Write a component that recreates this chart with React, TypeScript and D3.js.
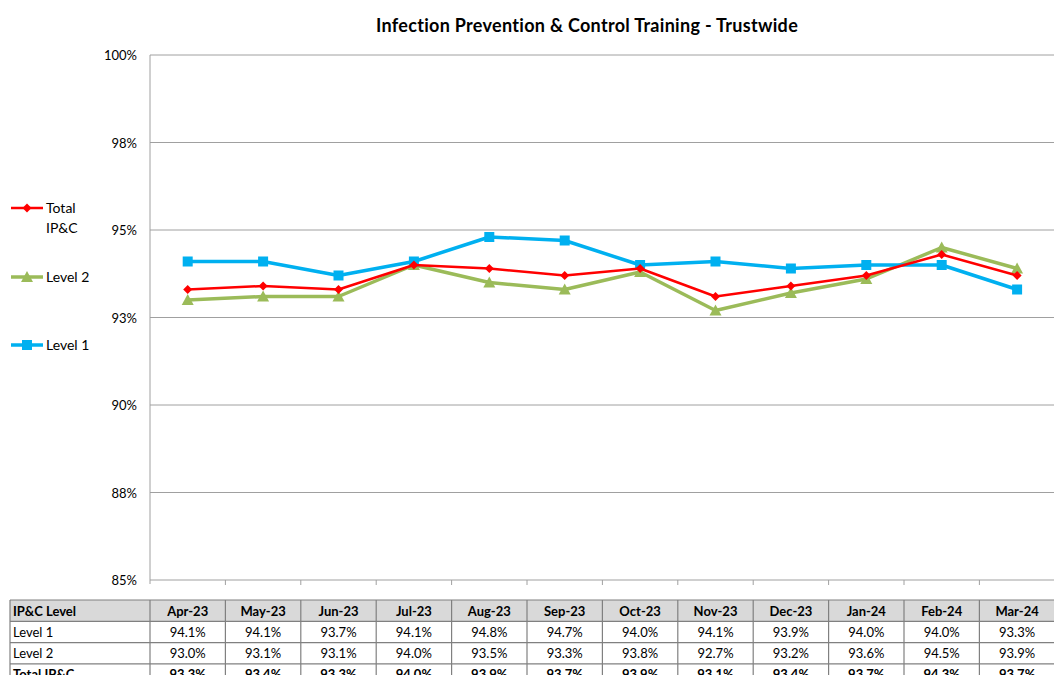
import React from "react";
import * as d3 from "d3";

const months = ["Apr-23","May-23","Jun-23","Jul-23","Aug-23","Sep-23","Oct-23","Nov-23","Dec-23","Jan-24","Feb-24","Mar-24"];
const level1 = [94.1,94.1,93.7,94.1,94.8,94.7,94.0,94.1,93.9,94.0,94.0,93.3];
const level2 = [93.0,93.1,93.1,94.0,93.5,93.3,93.8,92.7,93.2,93.6,94.5,93.9];
const total = [93.3,93.4,93.3,94.0,93.9,93.7,93.9,93.1,93.4,93.7,94.3,93.7];
const yTicks = [85, 87.5, 90, 92.5, 95, 97.5, 100];
const yTickLabels = ["85%","88%","90%","93%","95%","98%","100%"];
const title = "Infection Prevention & Control Training - Trustwide";

const FONT = "Lato, 'Open Sans', sans-serif";

export default function App() {
  const W = 1054, H = 675;
  const left = 150, top = 55, bottom = 580;
  const x = d3.scaleBand<string>().domain(months).range([left, left + 12 * 75.4]);
  const cx = (m: string) => (x(m) as number) + x.bandwidth() / 2;
  const y = d3.scaleLinear().domain([85, 100]).range([bottom, top]);
  const line = d3.line<number>().x((_, i) => cx(months[i])).y(d => y(d));

  const series = [
    { name: "Level 2", data: level2, color: "#9bbb59", width: 3.5, marker: "tri" },
    { name: "Level 1", data: level1, color: "#00b0f0", width: 3.5, marker: "sq" },
    { name: "Total", data: total, color: "#ff0000", width: 2.5, marker: "dia" },
  ];

  const marker = (type: string, px: number, py: number, color: string, key: any) => {
    if (type === "sq") return <rect key={key} x={px - 5} y={py - 5} width={10} height={10} fill={color} />;
    if (type === "tri") return <path key={key} d={`M${px},${py - 6}L${px + 6},${py + 5}L${px - 6},${py + 5}Z`} fill={color} />;
    return <path key={key} d={`M${px},${py - 4.5}L${px + 4.5},${py}L${px},${py + 4.5}L${px - 4.5},${py}Z`} fill={color} />;
  };

  const tTop = 600, rh = 21.3;
  const rows = [
    { label: "Level 1", vals: level1, bold: false },
    { label: "Level 2", vals: level2, bold: false },
    { label: "Total IP&C", vals: total, bold: true },
  ];
  const bandR = (x(months[11]) as number) + x.bandwidth();

  return (
    <svg width={W} height={H} style={{ position: "absolute", left: 0, top: 0, fontFamily: FONT }}>
      <rect width={W} height={H} fill="#fff" />
      <text x={587} y={32} textAnchor="middle" fontSize={18} fontWeight="bold" letterSpacing={0.3} fill="#000">{title}</text>
      {yTicks.map((t, i) => (
        <g key={t}>
          <line x1={left} x2={bandR} y1={y(t)} y2={y(t)} stroke="#a0a0a0" strokeWidth={1} />
          <text x={137} y={y(t) + 5} textAnchor="end" fontSize={13} fill="#000">{yTickLabels[i]}</text>
        </g>
      ))}
      <line x1={left} x2={left} y1={top} y2={bottom + 4} stroke="#a0a0a0" />
      {months.map((m, i) => i > 0 ? <line key={m} x1={x(m) as number} x2={x(m) as number} y1={bottom} y2={bottom + 5} stroke="#a0a0a0" /> : null)}
      {series.map(s => (
        <g key={s.name}>
          <path d={line(s.data) || ""} fill="none" stroke={s.color} strokeWidth={s.width} strokeLinejoin="round" />
          {s.data.map((v, i) => marker(s.marker, cx(months[i]), y(v), s.color, i))}
        </g>
      ))}
      <g fontSize={14} fill="#000">
        <line x1={11} x2={43} y1={208} y2={208} stroke="#ff0000" strokeWidth={2.5} />
        {marker("dia", 27, 208, "#ff0000", "l1")}
        <text x={46} y={213}>Total</text>
        <text x={46} y={233}>IP&amp;C</text>
        <line x1={11} x2={43} y1={277} y2={277} stroke="#9bbb59" strokeWidth={3.5} />
        {marker("tri", 27, 277, "#9bbb59", "l2")}
        <text x={46} y={282}>Level 2</text>
        <line x1={11} x2={43} y1={345} y2={345} stroke="#00b0f0" strokeWidth={3.5} />
        {marker("sq", 27, 345, "#00b0f0", "l3")}
        <text x={46} y={350}>Level 1</text>
      </g>
      <rect x={10} y={tTop} width={bandR - 10} height={rh} fill="#d9d9d9" />
      <text x={13} y={tTop + 15.5} fontSize={13} fontWeight="bold">IP&amp;C Level</text>
      {months.map(m => (
        <text key={m} x={cx(m)} y={tTop + 15.5} fontSize={13} fontWeight="bold" textAnchor="middle">{m}</text>
      ))}
      {rows.map((r, ri) => (
        <g key={r.label}>
          <text x={13} y={tTop + rh * (ri + 1) + 15.5} fontSize={13} fontWeight={r.bold ? "bold" : "normal"}>{r.label}</text>
          {r.vals.map((v, i) => (
            <text key={i} x={cx(months[i])} y={tTop + rh * (ri + 1) + 15.5} fontSize={13} fontWeight={r.bold ? "bold" : "normal"} textAnchor="middle">{v.toFixed(1)}%</text>
          ))}
        </g>
      ))}
      {[0, 1, 2, 3, 4].map(k => (
        <line key={k} x1={10} x2={bandR} y1={tTop + rh * k} y2={tTop + rh * k} stroke="#808080" strokeWidth={1.2} />
      ))}
      {[10, ...months.map(m => x(m) as number), bandR].map((xx, k) => (
        <line key={k} x1={xx} x2={xx} y1={tTop} y2={H} stroke="#808080" strokeWidth={1.2} />
      ))}
    </svg>
  );
}
